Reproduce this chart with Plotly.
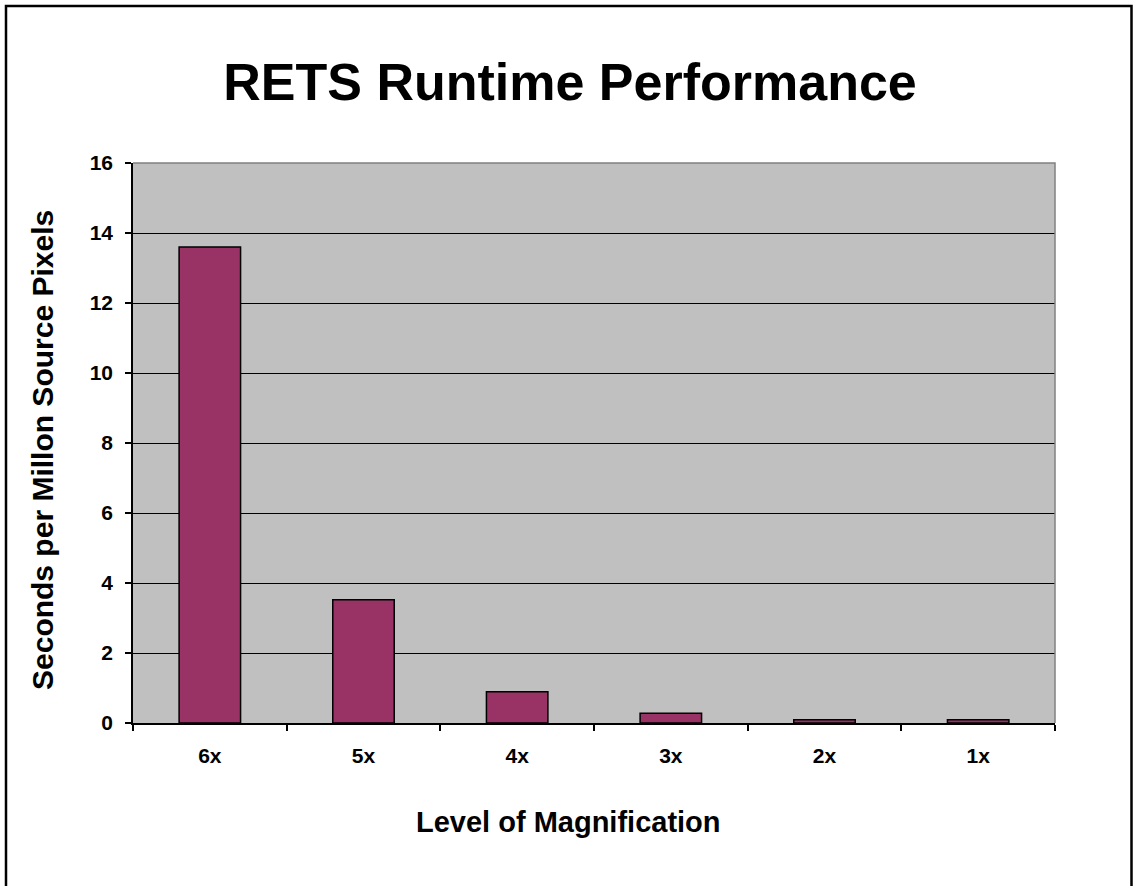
import plotly.graph_objects as go

# Chart data
categories = ["6x", "5x", "4x", "3x", "2x", "1x"]
seconds = [13.6, 3.52, 0.89, 0.28, 0.09, 0.09]
y_ticks = [0, 2, 4, 6, 8, 10, 12, 14, 16]

W, H = 1133, 886
L, R, T, B = 133, 78, 163, 163
plot_w = W - L - R
plot_h = H - T - B

FONT = "Liberation Sans, Arial, sans-serif"


def px_to_paper_x(px):
    return (px - L) / plot_w


def px_to_paper_y(py):
    return (H - B - py) / plot_h


fig = go.Figure(
    go.Bar(
        x=categories,
        y=seconds,
        width=0.4,
        marker=dict(color="#993366", line=dict(color="black", width=1.5)),
    )
)

fig.update_layout(
    width=W,
    height=H,
    margin=dict(l=L, r=R, t=T, b=B),
    paper_bgcolor="white",
    plot_bgcolor="#C0C0C0",
    showlegend=False,
    font=dict(family=FONT, color="black"),
    title=dict(
        text="<b>RETS Runtime Performance</b>",
        font=dict(family=FONT, size=52, color="black"),
        x=px_to_paper_x(570),
        xanchor="center",
        y=1 - 82 / H,
        yanchor="middle",
        xref="paper",
        yref="container",
    ),
    bargap=0.6,
)

fig.update_xaxes(
    type="category",
    tickson="boundaries",
    ticks="outside",
    ticklen=6,
    tickwidth=1.5,
    tickcolor="black",
    showline=True,
    linecolor="black",
    linewidth=1.5,
    showgrid=False,
    tickfont=dict(family=FONT, size=21, color="black"),
    ticklabelstandoff=13,
    tickprefix="<b>",
    ticksuffix="</b>",
)

fig.update_yaxes(
    range=[0, 16],
    tickvals=y_ticks,
    ticktext=[f"<b>{v}</b>" for v in y_ticks],
    ticks="outside",
    ticklen=6,
    tickwidth=1.5,
    tickcolor="black",
    showline=True,
    linecolor="black",
    linewidth=1.5,
    showgrid=True,
    gridcolor="black",
    gridwidth=1.2,
    zeroline=False,
    tickfont=dict(family=FONT, size=21, color="black"),
    ticklabelstandoff=8,
)

# Plot area border (top and right edges in gray)
fig.add_shape(
    type="path",
    xref="paper",
    yref="paper",
    path="M 0 1 L 1 1 L 1 0",
    line=dict(color="#808080", width=1.5),
    layer="above",
)

# Outer chart border
fig.add_shape(
    type="rect",
    xref="paper",
    yref="paper",
    x0=px_to_paper_x(6),
    x1=px_to_paper_x(1131.5),
    y0=px_to_paper_y(893),
    y1=px_to_paper_y(6),
    line=dict(color="black", width=2.5),
    fillcolor="rgba(0,0,0,0)",
    layer="above",
)

# Axis titles
fig.add_annotation(
    text="<b>Level of Magnification</b>",
    xref="paper",
    yref="paper",
    x=px_to_paper_x(568),
    y=px_to_paper_y(822),
    xanchor="center",
    yanchor="middle",
    showarrow=False,
    font=dict(family=FONT, size=29, color="black"),
)
fig.add_annotation(
    text="<b>Seconds per Millon Source Pixels</b>",
    xref="paper",
    yref="paper",
    x=px_to_paper_x(42),
    y=px_to_paper_y(450),
    xanchor="center",
    yanchor="middle",
    textangle=-90,
    showarrow=False,
    font=dict(family=FONT, size=30, color="black"),
)

fig.write_html("out.html")
